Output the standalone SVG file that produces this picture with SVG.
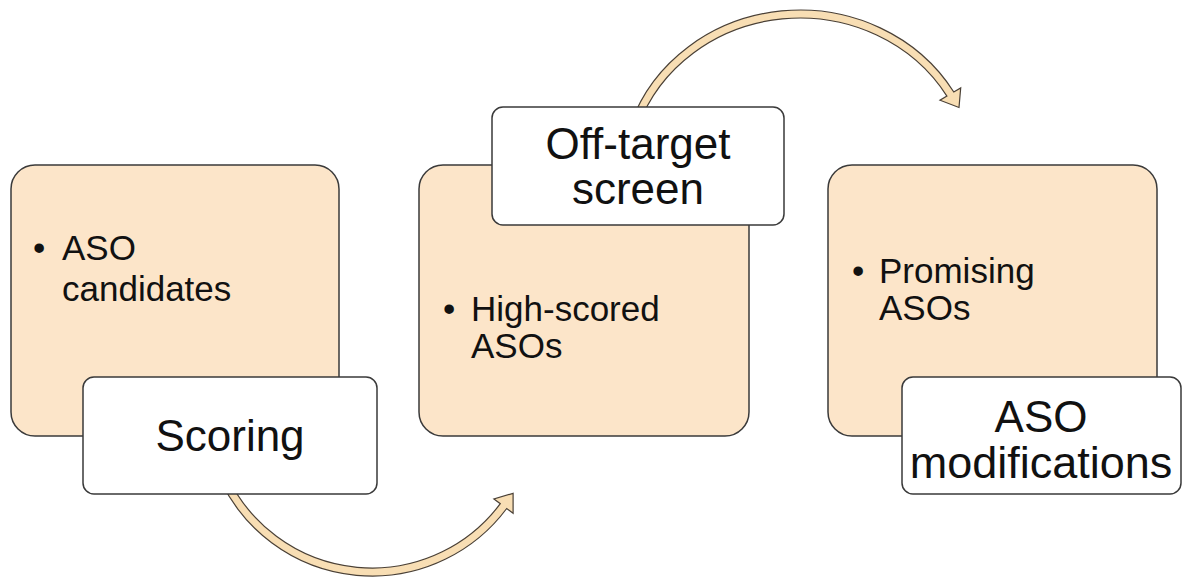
<svg xmlns="http://www.w3.org/2000/svg" width="1187" height="581" viewBox="0 0 1187 581">
<style>
.big{fill:#fce5c9;stroke:#3a3a3a;stroke-width:1.5}
.lab{fill:#ffffff;stroke:#3a3a3a;stroke-width:1.5}
.arr{fill:#f8deb4;stroke:#4a4036;stroke-width:1.2;stroke-linejoin:miter}
.bt{font-family:"Liberation Sans",Arial,sans-serif;font-size:35px;fill:#111}
.lt{font-family:"Liberation Sans",Arial,sans-serif;font-size:44px;fill:#111;text-anchor:middle}
</style>
<rect width="1187" height="581" fill="#ffffff"/>
<g id="connectors">
<path class="arr" d="M 221.1 481.8 A 168 168 0 0 0 506.7 508.5 L 513.1 513.3 L 513.1 493.3 L 493.9 498.9 L 500.3 503.7 A 160 160 0 0 1 228.3 478.2 Z"/>
<path class="arr" d="M 630.7 123.7 A 179 168 0 0 1 953.8 92.0 L 960.7 87.9 L 959.0 107.5 L 940.0 100.2 L 946.9 96.1 A 171 160 0 0 0 638.2 126.3 Z"/>
</g>
<g id="node-aso-candidates">
<rect class="big" x="11" y="165" width="328" height="271" rx="24"/>
<text class="bt" x="33" y="260">•</text>
<text class="bt" x="62" y="260">ASO</text>
<text class="bt" x="62" y="301">candidates</text>
</g>
<g id="node-scoring">
<rect class="lab" x="83" y="377" width="294" height="117" rx="11"/>
<text class="lt" x="230" y="451">Scoring</text>
</g>
<g id="node-high-scored">
<rect class="big" x="419" y="165" width="330" height="271" rx="24"/>
<text class="bt" x="443" y="321">•</text>
<text class="bt" x="471" y="321">High-scored</text>
<text class="bt" x="471" y="358">ASOs</text>
</g>
<g id="node-off-target">
<rect class="lab" x="492" y="107" width="292" height="118" rx="11"/>
<text class="lt" x="638" y="159">Off-target</text>
<text class="lt" x="638" y="204">screen</text>
</g>
<g id="node-promising">
<rect class="big" x="828" y="165" width="329" height="271" rx="24"/>
<text class="bt" x="852" y="283">•</text>
<text class="bt" x="879" y="283">Promising</text>
<text class="bt" x="879" y="320">ASOs</text>
</g>
<g id="node-aso-modifications">
<rect class="lab" x="902" y="377" width="279" height="117" rx="11"/>
<text class="lt" x="1041" y="432">ASO</text>
<text class="lt" x="1041" y="478" style="font-size:45px">modifications</text>
</g>
</svg>
